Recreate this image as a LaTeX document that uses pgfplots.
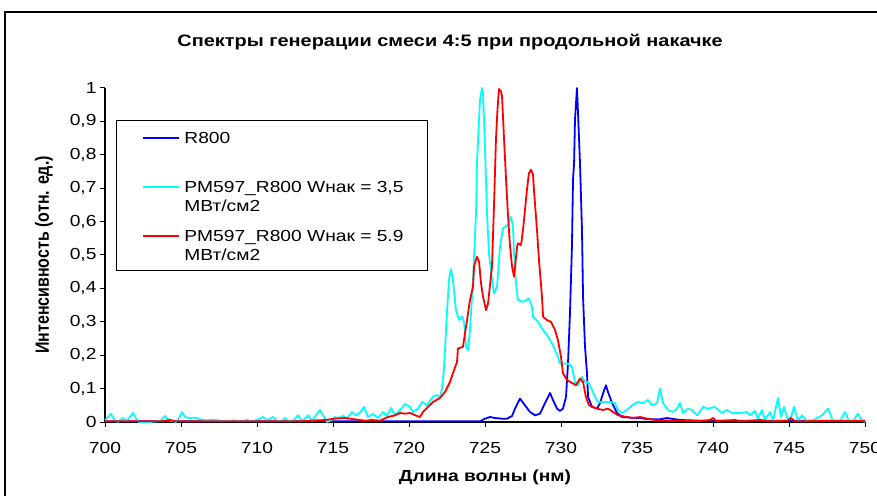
\documentclass[border=0pt]{standalone}
\usepackage{fontspec}
\setmainfont[FakeStretch=1.2]{Liberation Sans}
\newfontfamily\ylabfont[FakeStretch=0.833]{Liberation Sans}
\usepackage{pgfplots}
\pgfplotsset{compat=1.18}
\definecolor{cBlue}{RGB}{0,0,255}
\definecolor{cCyan}{RGB}{0,255,255}
\definecolor{cRed}{RGB}{255,0,0}
\begin{document}
\begin{tikzpicture}
\begin{axis}[
  at={(105pt,73pt)}, anchor=south west,
  scale only axis, width=760pt, height=334pt,
  xmin=700, xmax=750, ymin=0, ymax=1,
  clip=false,
  axis x line*=bottom, axis y line*=left,
  axis line style={line width=1.2pt, black},
  tick style={line width=1pt, black},
  tick align=outside, major tick length=5pt,
  xtick={700,705,710,715,720,725,730,735,740,745,750},
  ytick={0,0.1,0.2,0.3,0.4,0.5,0.6,0.7,0.8,0.9,1},
  /pgf/number format/assume math mode=true,
  /pgf/number format/use comma,
  /pgf/number format/1000 sep={},
  tick label style={font=\fontsize{16}{19}\selectfont},
  xticklabel style={yshift=-12pt},
  title={Спектры генерации смеси 4:5 при продольной накачке},
  title style={at={(axis description cs:0.454,1.1198)}, anchor=center, font=\bfseries\fontsize{16.6}{19}\selectfont},
  xlabel={Длина волны (нм)},
  xlabel style={at={(axis description cs:0.5,-0.1647)}, anchor=center, font=\bfseries\fontsize{16}{19}\selectfont},
  ylabel={Интенсивность (отн. ед.)},
  ylabel style={at={(axis description cs:-0.0803,0.5)}, anchor=center, font=\ylabfont\bfseries\fontsize{19.2}{22}\selectfont},
  legend cell align=left,
  legend style={at={(axis description cs:0.0145,0.904)}, anchor=north west,
    draw=black, line width=1.2pt, fill=white,
    inner xsep=25pt, inner ysep=7pt, row sep=11pt, column sep=5pt,
    font=\fontsize{16}{19}\selectfont,
    nodes={inner sep=0pt, anchor=base west, text height=16pt, text depth=22pt}},
  legend image code/.code={\draw[#1, line width=1.8pt] (0pt,5.7pt) -- (36pt,5.7pt);},
]
\addplot[color=cBlue, line width=1.8pt, line join=round] coordinates {
(700.00,0.002) (724.67,0.002) (725.00,0.010) (725.33,0.015) (725.66,0.012)
(726.12,0.010) (726.45,0.010) (726.78,0.018) (726.97,0.040) (727.30,0.070)
(727.63,0.050) (727.96,0.030) (728.29,0.020) (728.62,0.025) (728.95,0.057)
(729.28,0.087) (729.47,0.066) (729.74,0.040) (729.93,0.033) (730.13,0.040)
(730.33,0.075) (730.46,0.175) (730.59,0.325) (730.72,0.525) (730.79,0.725)
(730.86,0.775) (730.92,0.905) (731.05,1.000) (731.12,0.925) (731.25,0.775)
(731.38,0.575) (731.45,0.375) (731.58,0.225) (731.71,0.146) (731.78,0.075)
(732.04,0.045) (732.37,0.040) (732.57,0.057) (732.76,0.085) (732.96,0.110)
(733.09,0.090) (733.36,0.057) (733.68,0.027) (734.01,0.015) (734.54,0.013)
(735.20,0.012) (735.72,0.008) (736.51,0.008) (736.97,0.012) (737.83,0.006)
(739.14,0.004) (750.00,0.004)
};
\addlegendentry{\makebox[218pt][l]{\begin{tabular}[t]{@{}l@{}}R800\\ \mbox{}\end{tabular}}}
\addplot[color=cCyan, line width=1.8pt, line join=round] coordinates {
(700.00,0.005) (700.20,0.015) (700.39,0.025) (700.59,0.008) (700.86,0.000)
(701.18,0.012) (701.45,0.003) (701.64,0.015) (701.84,0.027) (702.04,0.010)
(702.24,0.000) (702.96,0.000) (703.62,0.003) (703.95,0.018) (704.21,0.005)
(704.67,0.000) (704.87,0.012) (705.07,0.030) (705.26,0.015) (705.53,0.012)
(705.92,0.013) (706.25,0.008) (706.71,0.005) (707.11,0.007) (707.57,0.004)
(708.09,0.003) (708.49,0.005) (708.88,0.002) (709.34,0.006) (709.67,0.002)
(710.07,0.008) (710.39,0.015) (710.66,0.005) (711.05,0.015) (711.32,0.004)
(711.64,0.003) (711.84,0.012) (712.11,0.002) (712.43,0.006) (712.70,0.020)
(712.96,0.003) (713.16,0.010) (713.36,0.020) (713.62,0.003) (713.95,0.025)
(714.14,0.036) (714.41,0.015) (714.61,0.000) (714.87,0.005) (715.13,0.015)
(715.39,0.012) (715.66,0.018) (715.92,0.010) (716.25,0.030) (716.51,0.020)
(716.78,0.028) (717.04,0.045) (717.30,0.015) (717.63,0.024) (717.96,0.012)
(718.29,0.030) (718.55,0.018) (718.82,0.042) (719.08,0.020) (719.41,0.036)
(719.74,0.054) (720.07,0.045) (720.26,0.030) (720.59,0.040) (720.86,0.060)
(721.18,0.050) (721.45,0.068) (721.64,0.078) (721.84,0.080) (722.04,0.075)
(722.17,0.100) (722.30,0.160) (722.50,0.330) (722.63,0.425) (722.76,0.458)
(722.89,0.425) (723.09,0.335) (723.29,0.305) (723.49,0.315) (723.62,0.300)
(723.75,0.225) (723.88,0.215) (724.01,0.275) (724.21,0.425) (724.41,0.625)
(724.47,0.775) (724.67,0.964) (724.80,1.000) (724.87,0.985) (725.00,0.820)
(725.13,0.625) (725.26,0.505) (725.46,0.425) (725.59,0.385) (725.79,0.405)
(725.99,0.525) (726.18,0.580) (726.51,0.590) (726.71,0.614) (726.84,0.585)
(726.91,0.505) (727.04,0.415) (727.17,0.365) (727.50,0.360) (727.89,0.370)
(728.09,0.345) (728.16,0.315) (728.49,0.300) (728.75,0.280) (729.08,0.260)
(729.41,0.235) (729.61,0.215) (729.80,0.195) (729.93,0.175) (730.13,0.175)
(730.46,0.175) (730.72,0.165) (730.92,0.120) (731.12,0.110) (731.38,0.135)
(731.58,0.120) (731.78,0.120) (732.04,0.096) (732.24,0.075) (732.43,0.060)
(732.76,0.060) (733.16,0.060) (733.55,0.057) (733.75,0.036) (734.01,0.027)
(734.34,0.036) (734.67,0.050) (735.07,0.060) (735.39,0.057) (735.72,0.066)
(735.99,0.050) (736.32,0.057) (736.51,0.100) (736.71,0.057) (737.04,0.036)
(737.37,0.030) (737.63,0.040) (737.83,0.057) (738.03,0.027) (738.36,0.040)
(738.62,0.036) (738.95,0.020) (739.34,0.045) (739.67,0.040) (740.13,0.045)
(740.59,0.027) (740.92,0.036) (741.25,0.027) (741.91,0.027) (742.24,0.030)
(742.43,0.020) (742.76,0.033) (742.96,0.010) (743.22,0.036) (743.42,0.005)
(743.75,0.030) (743.95,0.005) (744.28,0.072) (744.47,0.015) (744.67,0.045)
(744.93,0.005) (745.13,0.015) (745.33,0.045) (745.59,0.005) (745.86,0.020)
(746.18,0.003) (746.51,0.003) (747.17,0.020) (747.57,0.040) (747.89,0.003)
(748.36,0.003) (748.68,0.030) (748.95,0.003) (749.21,0.003) (749.54,0.025)
(749.80,0.005) (750.00,0.000)
};
\addlegendentry{\makebox[218pt][l]{\begin{tabular}[t]{@{}l@{}}PM597\_R800 Wнак = 3,5\\МВт/см2\end{tabular}}}
\addplot[color=cRed, line width=1.8pt, line join=round] coordinates {
(700.00,0.002) (703.62,0.002) (704.28,0.006) (704.61,0.002) (712.83,0.002)
(713.49,0.004) (714.47,0.006) (715.13,0.010) (715.79,0.012) (716.45,0.008)
(717.11,0.004) (717.57,0.006) (718.09,0.004) (718.62,0.015) (719.08,0.020)
(719.41,0.027) (719.74,0.025) (720.07,0.027) (720.53,0.018) (720.72,0.015)
(720.92,0.030) (721.25,0.045) (721.58,0.060) (722.04,0.072) (722.37,0.090)
(722.70,0.120) (722.89,0.146) (723.16,0.180) (723.22,0.220) (723.55,0.225)
(723.68,0.265) (723.82,0.305) (724.01,0.365) (724.21,0.405) (724.28,0.465)
(724.47,0.495) (724.61,0.480) (724.74,0.415) (724.87,0.375) (725.07,0.335)
(725.20,0.355) (725.46,0.465) (725.59,0.645) (725.72,0.845) (725.82,0.935)
(725.92,0.997) (726.05,0.990) (726.12,0.975) (726.25,0.850) (726.38,0.730)
(726.51,0.620) (726.64,0.530) (726.78,0.465) (726.91,0.435) (727.11,0.525)
(727.17,0.535) (727.37,0.530) (727.50,0.575) (727.63,0.635) (727.76,0.695)
(727.89,0.745) (728.03,0.755) (728.16,0.740) (728.22,0.695) (728.42,0.575)
(728.55,0.485) (728.75,0.375) (728.82,0.315) (729.08,0.305) (729.34,0.300)
(729.61,0.275) (729.80,0.245) (730.00,0.195) (730.13,0.146) (730.39,0.126)
(730.72,0.117) (730.99,0.110) (731.25,0.130) (731.45,0.120) (731.64,0.075)
(731.84,0.050) (732.37,0.040) (732.76,0.036) (733.09,0.040) (733.42,0.030)
(733.75,0.020) (734.34,0.015) (734.74,0.012) (735.20,0.015) (735.66,0.010)
(736.32,0.005) (737.17,0.004) (739.14,0.003) (739.80,0.006) (740.00,0.012)
(740.20,0.003) (741.45,0.006) (741.78,0.002) (743.09,0.006) (743.75,0.002)
(744.93,0.004) (745.13,0.012) (745.39,0.002) (747.04,0.003) (750.00,0.003)
};
\addlegendentry{\makebox[218pt][l]{\begin{tabular}[t]{@{}l@{}}PM597\_R800 Wнак = 5.9\\МВт/см2\end{tabular}}}
\end{axis}
\draw[line width=1.3pt, black] (5pt,-10pt) rectangle (895pt,483pt);
\pgfresetboundingbox
\path (0,0) rectangle (877pt,495pt);
\end{tikzpicture}
\end{document}
